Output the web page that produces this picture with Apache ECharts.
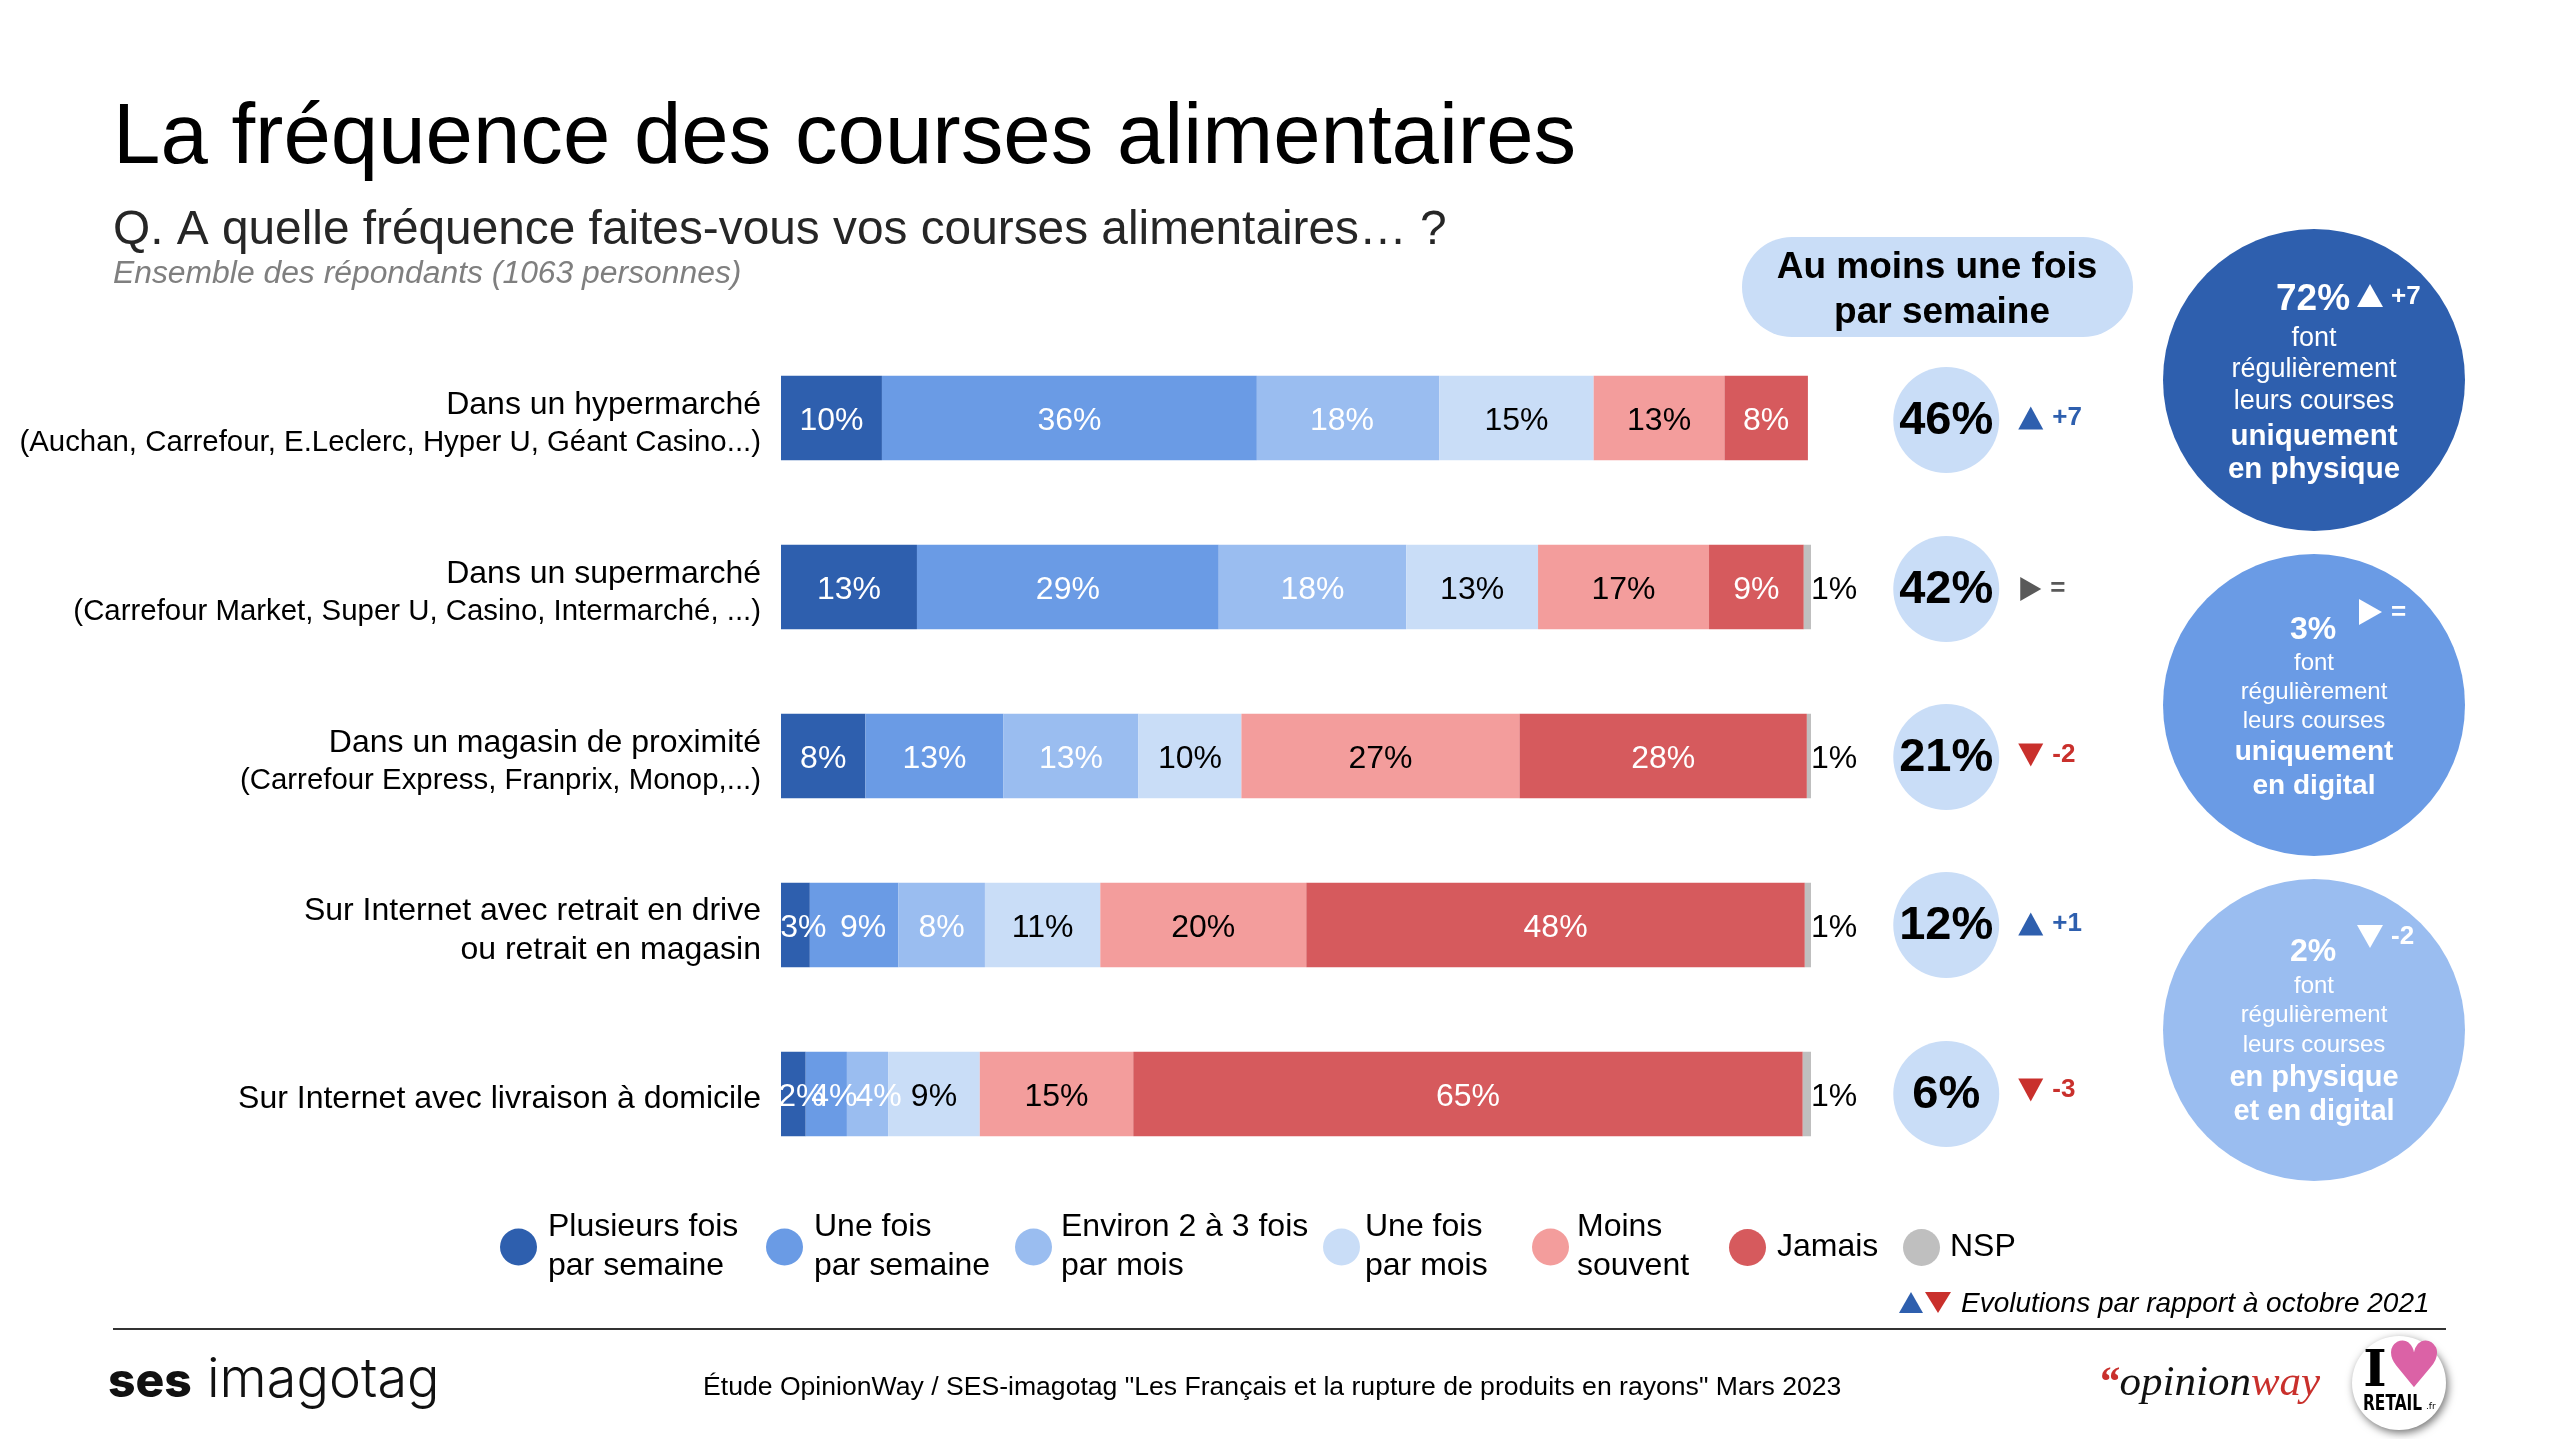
<!DOCTYPE html>
<html>
<head>
<meta charset="utf-8">
<title>La fréquence des courses alimentaires</title>
<script src="https://cdn.jsdelivr.net/npm/echarts@6/dist/echarts.min.js"></script>
<style>
  html, body { margin: 0; padding: 0; background: #fff; }
  #chart { width: 2560px; height: 1439px; }
</style>
</head>
<body>
<div id="chart"></div>
<script>
const FONT = '"Liberation Sans", Arial, sans-serif';

const rowLabels = [
  ['Dans un hypermarché', '(Auchan, Carrefour, E.Leclerc, Hyper U, Géant Casino...)'],
  ['Dans un supermarché', '(Carrefour Market, Super U, Casino, Intermarché, ...)'],
  ['Dans un magasin de proximité', '(Carrefour Express, Franprix, Monop,...)'],
  ['Sur Internet avec retrait en drive', 'ou retrait en magasin'],
  ['Sur Internet avec livraison à domicile']
];

const seriesNames = [
  'Plusieurs fois\npar semaine',
  'Une fois\npar semaine',
  'Environ 2 à 3 fois\npar mois',
  'Une fois\npar mois',
  'Moins\nsouvent',
  'Jamais',
  'NSP'
];

// labels show the rounded value
const plusieursFois = [9.8, 13.2, 8.2, 2.8, 2.4];
const uneFoisSemaine = [36.4, 29.3, 13.4, 8.6, 4.0];
const deuxTroisFois = [17.7, 18.2, 13.1, 8.4, 4.0];
const uneFoisMois = [15.0, 12.8, 10.0, 11.2, 8.9];
const moinsSouvent = [12.7, 16.6, 27.0, 20.0, 14.9];
const jamais = [8.1, 9.2, 27.9, 48.4, 65.0];
const nsp = [null, 0.8, 0.6, 0.6, 0.8];

const seriesValues = [plusieursFois, uneFoisSemaine, deuxTroisFois, uneFoisMois, moinsSouvent, jamais, nsp];
const seriesColors = ['#2E5FAE', '#6A9BE5', '#9ABDF0', '#C9DDF7', '#F39D9C', '#D65A5D', '#BFBFBF'];
const labelColors = ['#fff', '#fff', '#fff', '#000', '#000', '#fff', '#000'];

const totals = [46, 42, 21, 12, 6];
const trends = [7, 0, -2, 1, -3];
const extraColumns = ['total', 'trend'];

// layout tweaks, px
const legendLeft = [500, 766, 1015, 1323, 1532, 1729, 1903];
const legendTextGap = [6, 6, 4, 0, 3, 6, 5];
const labelNudge = { '2,0': -6, '0,3': 8, '1,3': 9, '0,4': 8, '1,4': 8, '2,4': 11 };
const totalNudge = [2, 2, 1, 0, 0];
const trendNudge = [0, 2, -1, -1, -4];

const COL_UP = '#2E5FAE', COL_DOWN = '#C9302C', COL_SAME = '#595959';

function trendColor(d) { return d > 0 ? COL_UP : d < 0 ? COL_DOWN : COL_SAME; }
function trendText(d) { return d > 0 ? '+' + d : d < 0 ? String(d) : '='; }
function trendRotate(d) { return d > 0 ? 0 : d < 0 ? 180 : -90; }

const barSeries = seriesNames.map((name, s) => ({
  name: name,
  type: 'bar',
  stack: 'all',
  barWidth: 84.5,
  itemStyle: { color: seriesColors[s] },
  label: {
    show: true,
    position: s === 6 ? 'right' : 'inside',
    distance: 0,
    color: labelColors[s],
    fontFamily: FONT,
    fontSize: 32,
    formatter: p => Math.round(p.value) + '%'
  },
  data: seriesValues[s].map((v, r) => v === null ? null : ({
    value: v,
    label: { offset: [labelNudge[s + ',' + r] || 0, 3] }
  }))
}));

const totalSeries = {
  type: 'scatter',
  xAxisIndex: 1,
  yAxisIndex: 1,
  symbol: 'circle',
  symbolSize: 106,
  itemStyle: { color: '#C9DDF7', opacity: 1 },
  label: {
    show: true,
    position: 'inside',
    offset: [0, 1],
    color: '#000',
    fontFamily: FONT,
    fontWeight: 'bold',
    fontSize: 47,
    formatter: p => p.value[2] + '%'
  },
  data: totals.map((v, i) => ({
    value: [0, i, v],
    symbolOffset: [0, totalNudge[i]]
  }))
};

const trendSeries = {
  type: 'scatter',
  xAxisIndex: 1,
  yAxisIndex: 1,
  symbol: 'triangle',
  label: {
    show: true,
    position: 'right',
    distance: 9,
    fontFamily: FONT,
    fontWeight: 'bold',
    fontSize: 26,
    formatter: p => trendText(p.value[2])
  },
  data: trends.map((d, i) => ({
    value: [1, i, d],
    symbolSize: d === 0 ? [24, 21] : [25, 23],
    symbolRotate: trendRotate(d),
    symbolOffset: [0, trendNudge[i]],
    itemStyle: { color: trendColor(d), opacity: 1 },
    label: { color: trendColor(d) }
  }))
};

// the three summary circles on the right
const summaryShare = [72, 3, 2];
const summaryTrend = [7, 0, -2];
const summaryColors = ['#2E5FAE', '#6A9BE5', '#9ABDF0'];
const summaryLines = [
  ['font', 'régulièrement', 'leurs courses', 'uniquement', 'en physique'],
  ['font', 'régulièrement', 'leurs courses', 'uniquement', 'en digital'],
  ['font', 'régulièrement', 'leurs courses', 'en physique', 'et en digital']
];
const summaryCenterY = [380, 705, 1030];
const summaryShareY = [300, 630, 952];
const summaryShareSize = [37, 32, 32];
const summaryLineY = [
  [339, 370, 402, 437, 470],
  [663, 692, 721, 752, 786],
  [986, 1015, 1045, 1078, 1112]
];
const summaryLineSize = [[27, 27, 27, 29.5, 29.5], [24, 24, 24, 28, 28], [24, 24, 24, 29, 29]];
const summaryTrendY = [297, 613, 937];

function text(x, y, str, size, color, extra) {
  return {
    type: 'text',
    x: x,
    y: y,
    style: Object.assign({
      text: str,
      fontFamily: FONT,
      fontSize: size,
      fill: color,
      textAlign: 'left',
      textVerticalAlign: 'middle'
    }, extra || {})
  };
}

const summaryGraphic = [];
summaryShare.forEach((share, k) => {
  summaryGraphic.push({
    type: 'circle',
    shape: { cx: 2314, cy: summaryCenterY[k], r: 151 },
    style: { fill: summaryColors[k] }
  });
  summaryGraphic.push(text(2313, summaryShareY[k], share + '%', summaryShareSize[k], '#fff', { fontWeight: 'bold', textAlign: 'center' }));
  summaryGraphic.push({
    type: 'polygon',
    x: 2370,
    y: summaryTrendY[k] - 1,
    rotation: trendRotate(summaryTrend[k]) * Math.PI / 180,
    shape: { points: [[0, -12], [13, 11], [-13, 11]] },
    style: { fill: '#fff' }
  });
  summaryGraphic.push(text(2391, summaryTrendY[k], trendText(summaryTrend[k]), 26, '#fff', { fontWeight: 'bold' }));
  summaryLines[k].forEach((line, j) => {
    summaryGraphic.push(text(2314, summaryLineY[k][j], line, summaryLineSize[k][j], '#fff', {
      fontWeight: j > 2 ? 'bold' : 'normal',
      textAlign: 'center'
    }));
  });
});

const chart = echarts.init(document.getElementById('chart'));

chart.setOption({
  animation: false,
  backgroundColor: '#fff',
  textStyle: { fontFamily: FONT },
  legend: seriesNames.map((name, s) => ({
    data: [name],
    left: legendLeft[s],
    top: name.indexOf('\n') > 0 ? 1208 : 1228,
    icon: 'circle',
    itemWidth: 37,
    itemHeight: 37,
    selectedMode: false,
    padding: 0,
    textStyle: {
      fontFamily: FONT,
      fontSize: 32,
      lineHeight: 39,
      color: '#000',
      padding: [0, 0, 0, legendTextGap[s]]
    }
  })),
  grid: [
    { left: 781, top: 333.5, width: 1030, height: 845 },
    { left: 1904, top: 333.5, width: 169, height: 845 }
  ],
  xAxis: [
    { type: 'value', gridIndex: 0, min: 0, max: 100, show: false },
    { type: 'category', gridIndex: 1, data: extraColumns, show: false }
  ],
  yAxis: [
    {
      type: 'category',
      gridIndex: 0,
      inverse: true,
      data: rowLabels.map(r => r.join('\n')),
      axisLine: { show: false },
      axisTick: { show: false },
      axisLabel: {
        margin: 20,
        align: 'right',
        padding: [11, 0, 0, 0],
        fontFamily: FONT,
        color: '#000',
        formatter: value => {
          const parts = value.split('\n');
          if (parts.length === 1) return '{a|' + parts[0] + '}';
          const second = parts[1].charAt(0) === '(' ? 'b' : 'a';
          return '{a|' + parts[0] + '}\n{' + second + '|' + parts[1] + '}';
        },
        rich: {
          a: { fontFamily: FONT, fontSize: 32, lineHeight: 39, color: '#000', align: 'right' },
          b: { fontFamily: FONT, fontSize: 29.4, lineHeight: 37, color: '#000', align: 'right' }
        }
      }
    },
    { type: 'category', gridIndex: 1, inverse: true, data: rowLabels.map((r, i) => i), show: false }
  ],
  series: barSeries.concat([totalSeries, trendSeries]),
  graphic: [
    text(113, 140, 'La fréquence des courses alimentaires', 85.2, '#000'),
    text(113, 231, 'Q. A quelle fréquence faites-vous vos courses alimentaires… ?', 47.8, '#262626'),
    text(113, 274, 'Ensemble des répondants (1063 personnes)', 31.85, '#7F7F7F', { fontStyle: 'italic' }),
    {
      type: 'rect',
      shape: { x: 1742, y: 237, width: 391, height: 100, r: 50 },
      style: { fill: '#C9DDF7' }
    },
    text(1937, 268, 'Au moins une fois', 37, '#000', { fontWeight: 'bold', textAlign: 'center' }),
    text(1942, 313, 'par semaine', 37, '#000', { fontWeight: 'bold', textAlign: 'center' }),

    { type: 'polygon', shape: { points: [[1911, 1292], [1923, 1313], [1899, 1313]] }, style: { fill: COL_UP } },
    { type: 'polygon', shape: { points: [[1925, 1292], [1951, 1292], [1938, 1313]] }, style: { fill: COL_DOWN } },
    text(1961, 1304, 'Evolutions par rapport à octobre 2021', 28, '#000', { fontStyle: 'italic' }),

    { type: 'line', shape: { x1: 113, y1: 1329, x2: 2446, y2: 1329 }, style: { stroke: '#333', lineWidth: 2 } },
    text(703, 1388, 'Étude OpinionWay / SES-imagotag "Les Français et la rupture de produits en rayons" Mars 2023', 26.6, '#000'),

    // logos
    text(108, 1383, 'ses', 48, '#111', { fontFamily: 'Inter', fontWeight: 800 }),
    text(207, 1381, 'imagotag', 54, '#111', { fontFamily: 'Inter', fontWeight: 300 }),
    {
      type: 'text',
      x: 2098,
      y: 1384,
      style: {
        text: '{q|“}{o|opinion}{w|way}',
        textVerticalAlign: 'middle',
        rich: {
          q: { fontFamily: '"Liberation Serif"', fontStyle: 'italic', fontWeight: 'bold', fontSize: 43, fill: '#C9302C' },
          o: { fontFamily: '"Liberation Serif"', fontStyle: 'italic', fontSize: 43, fill: '#111' },
          w: { fontFamily: '"Liberation Serif"', fontStyle: 'italic', fontSize: 43, fill: '#C9302C' }
        }
      }
    },
    {
      type: 'circle',
      shape: { cx: 2399, cy: 1383, r: 47 },
      style: { fill: '#fff', shadowBlur: 8, shadowColor: 'rgba(0,0,0,0.55)', shadowOffsetX: 2, shadowOffsetY: 3 }
    },
    text(2375, 1373, 'I', 50, '#000', { fontFamily: '"DejaVu Serif"', fontWeight: 'bold', textAlign: 'center' }),
    text(2414, 1370, '♥', 64, '#DB62A6', { fontFamily: '"DejaVu Sans"', textAlign: 'center' }),
    Object.assign(text(2363, 1404, 'RETAIL', 22, '#000', { fontFamily: '"DejaVu Sans"', fontWeight: 'bold' }), { scaleX: 0.7 }),
    text(2426, 1407, '.fr', 9, '#000', { fontFamily: '"DejaVu Sans"' })
  ].concat(summaryGraphic)
});
</script>
</body>
</html>
